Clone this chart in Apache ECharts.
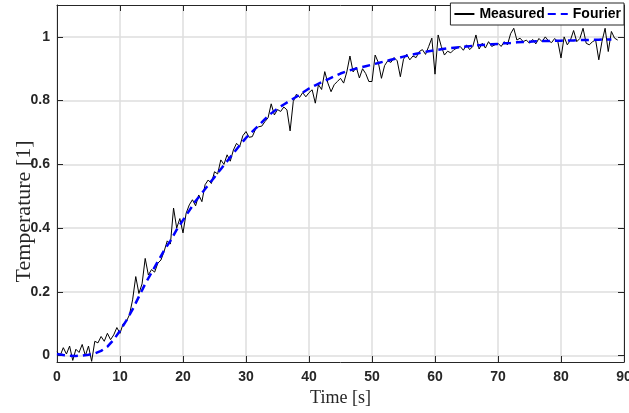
<!DOCTYPE html>
<html><head><meta charset="utf-8">
<script src="https://cdn.jsdelivr.net/npm/echarts@6/dist/echarts.min.js"></script>
<style>html,body{margin:0;padding:0;background:#fff}#c{width:629px;height:413px}</style>
</head><body><div id="c"></div>
<script>
// Measured samples every 0.5 s starting at t = 0
const measuredStart = 0;
const measuredStep = 0.5;
const measuredValues = [
  0.012, 0.0, 0.025, 0.005, 0.03, -0.015, 0.02, 0.01, 0.035, 0.0,
  0.03, -0.018, 0.045, 0.04, 0.06, 0.045, 0.07, 0.05, 0.065, 0.088,
  0.07, 0.1, 0.107, 0.128, 0.175, 0.248, 0.195, 0.225, 0.305, 0.253,
  0.27, 0.262, 0.29, 0.3, 0.327, 0.36, 0.35, 0.463, 0.4, 0.43,
  0.385, 0.447, 0.473, 0.489, 0.47, 0.504, 0.483, 0.536, 0.551, 0.54,
  0.577, 0.57, 0.614, 0.6, 0.63, 0.61, 0.645, 0.666, 0.656, 0.69,
  0.703, 0.685, 0.687, 0.71, 0.718, 0.72, 0.734, 0.746, 0.79, 0.755,
  0.772, 0.766, 0.78, 0.771, 0.705, 0.797, 0.82, 0.81, 0.825, 0.812,
  0.825, 0.834, 0.792, 0.85, 0.835, 0.891, 0.855, 0.828, 0.85, 0.86,
  0.87, 0.855, 0.89, 0.94, 0.89, 0.905, 0.871, 0.9, 0.885, 0.86,
  0.86, 0.943, 0.92, 0.87, 0.91, 0.925, 0.92, 0.935, 0.925, 0.875,
  0.93, 0.945, 0.928, 0.94, 0.935, 0.954, 0.96, 0.945, 0.97, 0.996,
  0.883, 1.006, 0.97, 0.943, 0.955, 0.95, 0.96, 0.965, 0.97, 0.958,
  0.975, 0.96, 0.97, 1.006, 0.962, 0.98, 0.965, 0.985, 0.97, 0.975,
  0.98, 0.97, 0.985, 0.975, 1.01, 1.027, 0.99, 0.996, 0.985, 0.99,
  0.98, 0.992, 0.978, 0.995, 0.985, 1.0, 0.988, 0.982, 0.995, 0.985,
  0.934, 1.0, 0.975, 0.99, 1.02, 0.985, 0.995, 1.027, 0.98, 0.975,
  0.985, 0.99, 0.928, 0.985, 1.027, 0.954, 1.017, 0.996, 0.99
];
const fourierTimes = [
  0,1,2,3,4,5,6,7,8,9,10,11,12,13,14,15,16,17,18,19,20,21,22,23,24,25,26,27,28,29,
  30,31,32,33,34,35,36,37,38,39,40,41,42,43,44,45,46,47,48,49,50,51,52,53,54,55,56,57,58,59,
  60,61,62,63,64,65,66,67,68,69,70,71,72,73,74,75,76,77,78,79,80,81,82,83,84,85,86,87,88
];
const fourierValues = [
  0.005, 0.002, 0.0, -0.001, 0.0, 0.003, 0.007, 0.015, 0.028, 0.05,
  0.078, 0.11, 0.145, 0.185, 0.225, 0.26, 0.295, 0.33, 0.36, 0.395,
  0.425, 0.455, 0.485, 0.51, 0.535, 0.56, 0.585, 0.61, 0.635, 0.66,
  0.683, 0.703, 0.722, 0.742, 0.76, 0.775, 0.788, 0.8, 0.812, 0.825,
  0.838, 0.848, 0.858, 0.867, 0.876, 0.885, 0.892, 0.898, 0.903, 0.908,
  0.913, 0.918, 0.923, 0.928, 0.933, 0.938, 0.943, 0.947, 0.951, 0.955,
  0.958, 0.961, 0.964, 0.966, 0.968, 0.97, 0.972, 0.974, 0.975, 0.977,
  0.978, 0.98, 0.981, 0.983, 0.984, 0.985, 0.986, 0.987, 0.987, 0.988,
  0.988, 0.989, 0.989, 0.99, 0.99, 0.991, 0.991, 0.992, 0.992
];
const xTicks = [0, 10, 20, 30, 40, 50, 60, 70, 80, 90];
const yTicks = [0, 0.2, 0.4, 0.6, 0.8, 1];
const seriesNames = ['Measured', 'Fourier'];

const measuredData = measuredValues.map((v, i) => [measuredStart + i * measuredStep, v]);
const fourierData = fourierValues.map((v, i) => [fourierTimes[i], v]);

const axisColor = '#262626';
const gridColor = '#dedede';
const labelStyle = {color: axisColor, fontFamily: 'Liberation Sans', fontWeight: 'bold', fontSize: 14};

const chart = echarts.init(document.getElementById('c'), null, {renderer: 'canvas'});
chart.setOption({
  animation: false,
  backgroundColor: '#fff',
  grid: {left: 57, right: 5, top: 5, bottom: 51, containLabel: false, outerBoundsMode: 'none'},
  legend: {
    data: seriesNames, right: 5, top: 3, orient: 'horizontal',
    itemWidth: 20, itemHeight: 12, itemGap: 2, padding: [4, 3, 4, 3],
    borderColor: axisColor, borderWidth: 1, backgroundColor: '#fff',
    itemStyle: {opacity: 0},
    textStyle: {color: '#000', fontFamily: 'Liberation Sans', fontWeight: 'bold', fontSize: 14}
  },
  xAxis: [{
    type: 'value', position: 'bottom', min: xTicks[0], max: xTicks[xTicks.length - 1], interval: 10,
    axisLine: {show: true, onZero: false, lineStyle: {color: axisColor, width: 1}},
    axisTick: {show: true, inside: true, length: 6, lineStyle: {color: axisColor}},
    axisLabel: Object.assign({margin: 8}, labelStyle),
    splitLine: {show: true, lineStyle: {color: gridColor, width: 1.5}},
    name: 'Time [s]', nameLocation: 'middle', nameGap: 27, nameMoveOverlap: false,
    nameTextStyle: {color: axisColor, fontFamily: 'Liberation Serif', fontSize: 18}
  }, {
    type: 'value', position: 'top', min: xTicks[0], max: xTicks[xTicks.length - 1], interval: 10,
    axisLine: {show: true, onZero: false, lineStyle: {color: axisColor, width: 1}},
    axisTick: {show: true, inside: true, length: 6, lineStyle: {color: axisColor}},
    axisLabel: {show: false}, splitLine: {show: false}
  }],
  yAxis: [{
    type: 'value', position: 'left', min: -0.02, max: 1.1,
    axisLine: {show: true, onZero: false, lineStyle: {color: axisColor, width: 1}},
    axisTick: {show: true, inside: true, length: 6, lineStyle: {color: axisColor}, customValues: yTicks},
    axisLabel: Object.assign({margin: 7, customValues: yTicks}, labelStyle),
    splitLine: {show: true, lineStyle: {color: gridColor, width: 1.5}},
    name: 'Temperature [1]', nameLocation: 'middle', nameGap: 22, nameMoveOverlap: false,
    nameTextStyle: {color: axisColor, fontFamily: 'Liberation Serif', fontSize: 22, padding: [0, 56, 0, 0]}
  }, {
    type: 'value', position: 'right', min: -0.02, max: 1.1,
    axisLine: {show: true, onZero: false, lineStyle: {color: axisColor, width: 1}},
    axisTick: {show: true, inside: true, length: 6, lineStyle: {color: axisColor}, customValues: yTicks},
    axisLabel: {show: false}, splitLine: {show: false}
  }],
  series: [{
    name: seriesNames[0], type: 'line', data: measuredData, xAxisIndex: 0, yAxisIndex: 0,
    symbol: 'none', lineStyle: {color: '#000', width: 1}, itemStyle: {color: '#000'}
  }, {
    name: seriesNames[1], type: 'line', data: fourierData, xAxisIndex: 0, yAxisIndex: 0,
    symbol: 'none', smooth: false,
    lineStyle: {color: '#0000ff', width: 2.5, type: [8, 5]}, itemStyle: {color: '#0000ff'}
  }]
});
</script></body></html>
